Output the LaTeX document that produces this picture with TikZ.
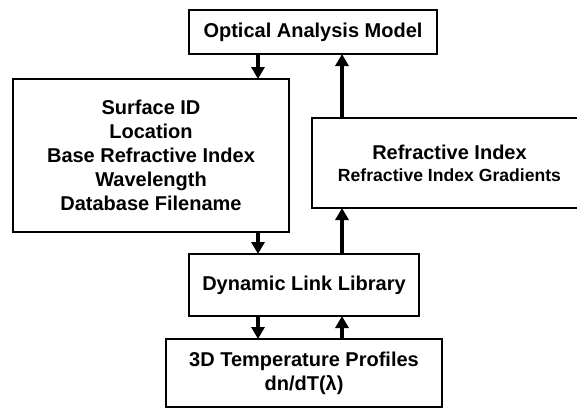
\documentclass[tikz,border=0pt]{standalone}
\usepackage{fontspec}
\setmainfont{Liberation Sans}
\usetikzlibrary{arrows.meta}
\begin{document}
\begin{tikzpicture}[x=1pt,y=-1pt,
  box/.style={draw,line width=2pt,rectangle,outer sep=0pt,inner sep=0pt,align=center,
    font=\fontsize{20}{24}\selectfont\bfseries},
  arr/.style={line width=4pt,-{Triangle[width=13pt,length=12pt]}}]
\useasboundingbox (0,0) rectangle (577,408);
\node[box,minimum width=248pt,minimum height=44pt] (oam) at (313,32) {Optical Analysis Model};
\node[box,minimum width=276pt,minimum height=153pt] (surf) at (151,155.5)
  {Surface ID\\Location\\Base Refractive Index\\Wavelength\\Database Filename};
\node[box,draw=none,minimum width=275pt,minimum height=90pt] (ri) at (449.5,163)
  {Refractive Index\\[-2pt]{\fontsize{17.6}{21}\selectfont\bfseries Refractive Index Gradients}};
\draw[line width=2pt] (ri.south west) rectangle ([xshift=30pt]ri.north east);
\node[box,minimum width=230pt,minimum height=62pt] (dll) at (304,285) {Dynamic Link Library};
\node[box,minimum width=276pt,minimum height=68pt] (temp) at (304,373)
  {3D Temperature Profiles\\dn/dT(λ)};
\coordinate (xa) at (258,0);
\coordinate (xb) at (342,0);
\draw[arr] (oam.south -| xa) -- (surf.north -| xa);
\draw[arr] (ri.north -| xb) -- (oam.south -| xb);
\draw[arr] (surf.south -| xa) -- (dll.north -| xa);
\draw[arr] (dll.north -| xb) -- (ri.south -| xb);
\draw[arr] (dll.south -| xa) -- (temp.north -| xa);
\draw[arr] (temp.north -| xb) -- (dll.south -| xb);
\end{tikzpicture}
\end{document}
